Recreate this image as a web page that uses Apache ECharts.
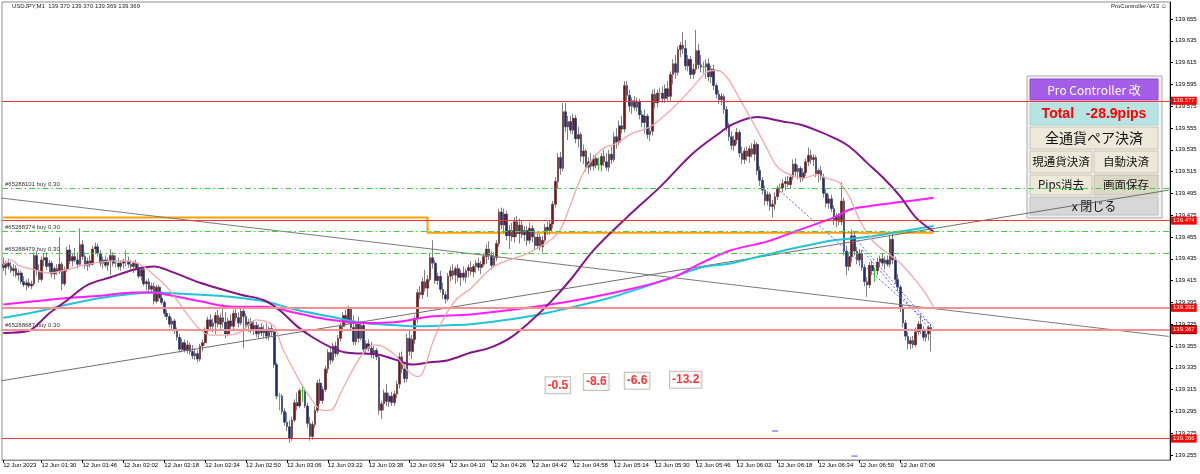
<!DOCTYPE html>
<html><head><meta charset="utf-8">
<script src="https://cdn.jsdelivr.net/npm/echarts@6/dist/echarts.min.js"></script>
<style>html,body{margin:0;padding:0;background:#fff}#c{width:1200px;height:474px}</style>
</head><body><div id="c"></div>
<script>
// ---- data (USDJPY M1, 12 Jun 2023, first bar 01:15) ----
const startMinute = 75; // 01:15
const slotCount = 457;  // bars + chart shift area
const opens = [139.430,139.427,139.431,139.428,139.424,139.426,139.420,139.422,139.414,139.411,139.413,139.410,139.412,139.438,139.424,139.416,139.434,139.436,139.428,139.431,139.421,139.426,139.423,139.430,139.412,139.425,139.443,139.433,139.437,139.434,139.430,139.448,139.437,139.429,139.433,139.430,139.444,139.446,139.440,139.431,139.434,139.429,139.433,139.438,139.431,139.431,139.428,139.431,139.433,139.433,139.430,139.428,139.431,139.426,139.419,139.425,139.412,139.414,139.407,139.410,139.396,139.409,139.399,139.395,139.385,139.382,139.375,139.378,139.369,139.363,139.352,139.358,139.351,139.356,139.350,139.346,139.348,139.343,139.355,139.358,139.369,139.379,139.373,139.376,139.383,139.375,139.381,139.377,139.366,139.378,139.373,139.385,139.381,139.376,139.387,139.382,139.374,139.377,139.370,139.374,139.366,139.372,139.367,139.370,139.364,139.371,139.368,139.338,139.309,139.309,139.295,139.285,139.281,139.270,139.287,139.303,139.300,139.314,139.314,139.300,139.284,139.272,139.283,139.296,139.321,139.305,139.315,139.334,139.349,139.342,139.355,139.348,139.362,139.373,139.383,139.378,139.389,139.372,139.359,139.375,139.362,139.374,139.352,139.357,139.353,139.347,139.351,139.345,139.296,139.302,139.312,139.304,139.309,139.303,139.311,139.320,139.345,139.334,139.325,139.362,139.350,139.361,139.380,139.404,139.402,139.414,139.408,139.416,139.436,139.431,139.415,139.419,139.407,139.402,139.398,139.419,139.424,139.420,139.426,139.418,139.422,139.418,139.424,139.427,139.423,139.428,139.431,139.427,139.430,139.437,139.444,139.438,139.429,139.436,139.449,139.478,139.466,139.476,139.456,139.461,139.455,139.469,139.458,139.466,139.457,139.461,139.452,139.463,139.455,139.447,139.455,139.446,139.452,139.464,139.461,139.467,139.485,139.506,139.528,139.518,139.570,139.556,139.561,139.553,139.564,139.545,139.549,139.529,139.534,139.519,139.524,139.520,139.527,139.521,139.521,139.529,139.524,139.519,139.531,139.526,139.547,139.542,139.557,139.554,139.594,139.585,139.575,139.580,139.574,139.579,139.567,139.560,139.566,139.549,139.552,139.586,139.578,139.587,139.587,139.582,139.591,139.584,139.604,139.614,139.606,139.627,139.631,139.628,139.612,139.618,139.604,139.609,139.626,139.613,139.611,139.611,139.614,139.602,139.609,139.594,139.586,139.581,139.584,139.572,139.556,139.547,139.539,139.544,139.551,139.532,139.526,139.534,139.529,139.536,139.531,139.540,139.516,139.507,139.498,139.488,139.494,139.483,139.485,139.492,139.500,139.500,139.504,139.506,139.503,139.510,139.522,139.515,139.518,139.509,139.514,139.524,139.530,139.526,139.528,139.513,139.516,139.510,139.495,139.486,139.490,139.481,139.470,139.474,139.469,139.488,139.442,139.428,139.437,139.456,139.442,139.434,139.440,139.427,139.414,139.411,139.429,139.424,139.424,139.432,139.435,139.431,139.434,139.430,139.453,139.434,139.416,139.409,139.390,139.376,139.364,139.357,139.360,139.356,139.368,139.375,139.370,139.363,139.366,139.372];
const highs = [139.436,139.433,139.435,139.432,139.430,139.429,139.425,139.424,139.419,139.416,139.417,139.415,139.441,139.442,139.430,139.437,139.440,139.441,139.434,139.433,139.428,139.430,139.455,139.432,139.428,139.446,139.448,139.440,139.445,139.441,139.463,139.452,139.441,139.436,139.438,139.447,139.450,139.449,139.443,139.437,139.438,139.436,139.444,139.441,139.438,139.436,139.434,139.435,139.443,139.437,139.434,139.433,139.434,139.430,139.428,139.427,139.416,139.417,139.413,139.413,139.411,139.411,139.405,139.397,139.388,139.385,139.381,139.380,139.372,139.366,139.362,139.361,139.360,139.358,139.356,139.353,139.351,139.357,139.361,139.372,139.382,139.384,139.380,139.386,139.388,139.385,139.394,139.386,139.381,139.384,139.388,139.392,139.386,139.390,139.391,139.385,139.380,139.381,139.378,139.377,139.375,139.376,139.374,139.376,139.373,139.375,139.370,139.340,139.312,139.311,139.298,139.294,139.287,139.290,139.306,139.312,139.316,139.318,139.316,139.303,139.290,139.286,139.300,139.324,139.325,139.318,139.337,139.352,139.353,139.358,139.359,139.365,139.376,139.386,139.388,139.392,139.391,139.383,139.378,139.382,139.378,139.376,139.360,139.361,139.359,139.355,139.353,139.347,139.305,139.315,139.320,139.312,139.313,139.314,139.323,139.349,139.350,139.338,139.366,139.369,139.365,139.383,139.407,139.410,139.418,139.425,139.420,139.440,139.452,139.434,139.422,139.424,139.413,139.405,139.422,139.428,139.430,139.428,139.430,139.425,139.428,139.426,139.430,139.433,139.430,139.434,139.436,139.433,139.440,139.448,139.451,139.442,139.441,139.452,139.481,139.482,139.481,139.479,139.466,139.468,139.473,139.474,139.472,139.470,139.465,139.465,139.468,139.466,139.462,139.458,139.458,139.456,139.467,139.469,139.470,139.488,139.510,139.532,139.533,139.578,139.578,139.566,139.566,139.568,139.567,139.556,139.551,139.540,139.536,139.528,139.532,139.530,139.531,139.528,139.532,139.535,139.532,139.535,139.538,139.551,139.555,139.562,139.566,139.598,139.598,139.590,139.583,139.584,139.583,139.582,139.571,139.572,139.568,139.556,139.590,139.591,139.590,139.592,139.593,139.595,139.598,139.607,139.618,139.622,139.630,139.634,139.643,139.636,139.622,139.621,139.614,139.645,139.632,139.622,139.616,139.618,139.619,139.612,139.613,139.596,139.590,139.587,139.586,139.575,139.560,139.552,139.548,139.555,139.553,139.538,139.537,139.538,139.539,139.541,139.544,139.542,139.520,139.510,139.502,139.497,139.496,139.489,139.496,139.502,139.504,139.508,139.510,139.511,139.513,139.526,139.527,139.521,139.520,139.518,139.527,139.537,139.535,139.531,139.530,139.518,139.520,139.513,139.499,139.494,139.494,139.484,139.477,139.477,139.505,139.491,139.447,139.441,139.462,139.460,139.446,139.444,139.443,139.430,139.418,139.432,139.433,139.427,139.436,139.438,139.440,139.437,139.438,139.457,139.458,139.437,139.421,139.411,139.393,139.379,139.368,139.363,139.364,139.372,139.378,139.384,139.373,139.369,139.374,139.375];
const lows = [139.424,139.420,139.425,139.422,139.419,139.418,139.415,139.412,139.409,139.406,139.408,139.407,139.410,139.420,139.413,139.414,139.428,139.425,139.422,139.418,139.416,139.420,139.421,139.406,139.410,139.423,139.430,139.428,139.432,139.426,139.428,139.434,139.426,139.424,139.427,139.429,139.439,139.437,139.428,139.426,139.427,139.424,139.420,139.428,139.427,139.425,139.424,139.426,139.428,139.427,139.424,139.422,139.424,139.417,139.415,139.410,139.406,139.404,139.403,139.393,139.394,139.396,139.393,139.382,139.379,139.372,139.370,139.366,139.360,139.349,139.350,139.349,139.348,139.347,139.343,139.342,139.340,139.341,139.350,139.356,139.366,139.370,139.368,139.366,139.372,139.370,139.372,139.362,139.364,139.370,139.369,139.378,139.372,139.374,139.353,139.371,139.368,139.367,139.365,139.363,139.362,139.364,139.362,139.361,139.360,139.364,139.335,139.306,139.296,139.292,139.282,139.277,139.266,139.268,139.285,139.296,139.298,139.304,139.298,139.280,139.268,139.269,139.280,139.294,139.302,139.302,139.313,139.330,139.338,139.340,139.345,139.346,139.359,139.368,139.374,139.375,139.369,139.356,139.356,139.358,139.360,139.349,139.347,139.350,139.344,139.343,139.342,139.292,139.288,139.296,139.300,139.299,139.300,139.300,139.307,139.316,139.330,139.321,139.322,139.346,139.343,139.357,139.376,139.398,139.398,139.405,139.400,139.414,139.426,139.412,139.411,139.404,139.398,139.394,139.396,139.414,139.416,139.412,139.414,139.410,139.415,139.413,139.418,139.420,139.418,139.422,139.424,139.421,139.428,139.430,139.434,139.425,139.427,139.433,139.446,139.462,139.458,139.452,139.444,139.451,139.450,139.455,139.449,139.454,139.451,139.447,139.449,139.450,139.443,139.444,139.443,139.441,139.450,139.457,139.457,139.463,139.482,139.500,139.512,139.515,139.551,139.544,139.550,139.549,139.541,139.537,139.524,139.522,139.515,139.513,139.516,139.516,139.518,139.516,139.515,139.520,139.516,139.515,139.522,139.524,139.536,139.539,139.550,139.551,139.580,139.570,139.568,139.571,139.570,139.563,139.556,139.550,139.545,139.543,139.548,139.573,139.574,139.580,139.578,139.578,139.580,139.580,139.595,139.600,139.603,139.620,139.623,139.608,139.607,139.600,139.600,139.605,139.609,139.606,139.605,139.600,139.598,139.596,139.590,139.582,139.577,139.576,139.568,139.552,139.543,139.535,139.534,139.540,139.528,139.522,139.522,139.525,139.523,139.528,139.525,139.512,139.502,139.494,139.484,139.484,139.479,139.473,139.480,139.489,139.495,139.496,139.498,139.501,139.500,139.507,139.511,139.508,139.505,139.506,139.511,139.520,139.522,139.520,139.510,139.505,139.507,139.491,139.482,139.481,139.478,139.466,139.464,139.466,139.466,139.438,139.420,139.424,139.432,139.438,139.430,139.428,139.424,139.410,139.400,139.408,139.420,139.414,139.420,139.427,139.428,139.425,139.428,139.427,139.430,139.412,139.405,139.386,139.372,139.360,139.352,139.352,139.353,139.354,139.365,139.366,139.360,139.359,139.360,139.350];
const closes = [139.427,139.431,139.428,139.424,139.426,139.420,139.422,139.414,139.411,139.413,139.410,139.412,139.438,139.424,139.416,139.434,139.436,139.428,139.431,139.421,139.426,139.423,139.430,139.412,139.425,139.443,139.433,139.437,139.434,139.430,139.448,139.437,139.429,139.433,139.430,139.444,139.446,139.440,139.431,139.434,139.429,139.433,139.438,139.431,139.431,139.428,139.431,139.433,139.433,139.430,139.428,139.431,139.426,139.419,139.425,139.412,139.414,139.407,139.410,139.396,139.409,139.399,139.395,139.385,139.382,139.375,139.378,139.369,139.363,139.352,139.358,139.351,139.356,139.350,139.346,139.348,139.343,139.355,139.358,139.369,139.379,139.373,139.376,139.383,139.375,139.381,139.377,139.366,139.378,139.373,139.385,139.381,139.376,139.387,139.382,139.374,139.377,139.370,139.374,139.366,139.372,139.367,139.370,139.364,139.371,139.368,139.338,139.309,139.309,139.295,139.285,139.281,139.270,139.287,139.303,139.300,139.314,139.314,139.300,139.284,139.272,139.283,139.296,139.321,139.305,139.315,139.334,139.349,139.342,139.355,139.348,139.362,139.373,139.383,139.378,139.389,139.372,139.359,139.375,139.362,139.374,139.352,139.357,139.353,139.347,139.351,139.345,139.296,139.302,139.312,139.304,139.309,139.303,139.311,139.320,139.345,139.334,139.325,139.362,139.350,139.361,139.380,139.404,139.402,139.414,139.408,139.416,139.436,139.431,139.415,139.419,139.407,139.402,139.398,139.419,139.424,139.420,139.426,139.418,139.422,139.418,139.424,139.427,139.423,139.428,139.431,139.427,139.430,139.437,139.444,139.438,139.429,139.436,139.449,139.478,139.466,139.476,139.456,139.461,139.455,139.469,139.458,139.466,139.457,139.461,139.452,139.463,139.455,139.447,139.455,139.446,139.452,139.464,139.461,139.467,139.485,139.506,139.528,139.518,139.570,139.556,139.561,139.553,139.564,139.545,139.549,139.529,139.534,139.519,139.524,139.520,139.527,139.521,139.521,139.529,139.524,139.519,139.531,139.526,139.547,139.542,139.557,139.554,139.594,139.585,139.575,139.580,139.574,139.579,139.567,139.560,139.566,139.549,139.552,139.586,139.578,139.587,139.587,139.582,139.591,139.584,139.604,139.614,139.606,139.627,139.631,139.628,139.612,139.618,139.604,139.609,139.626,139.613,139.611,139.611,139.614,139.602,139.609,139.594,139.586,139.581,139.584,139.572,139.556,139.547,139.539,139.544,139.551,139.532,139.526,139.534,139.529,139.536,139.531,139.540,139.516,139.507,139.498,139.488,139.494,139.483,139.485,139.492,139.500,139.500,139.504,139.506,139.503,139.510,139.522,139.515,139.518,139.509,139.514,139.524,139.530,139.526,139.528,139.513,139.516,139.510,139.495,139.486,139.490,139.481,139.470,139.474,139.469,139.488,139.442,139.428,139.437,139.456,139.442,139.434,139.440,139.427,139.414,139.411,139.429,139.424,139.424,139.432,139.435,139.431,139.434,139.430,139.453,139.434,139.416,139.409,139.390,139.376,139.364,139.357,139.360,139.356,139.368,139.375,139.370,139.363,139.366,139.372,139.369];

// moving averages: [bar index, price]
const pinkMA = [[0,139.429],[3,139.434],[6,139.429],[12,139.425],[18,139.422],[25,139.425],[31,139.429],[38,139.432],[44,139.433],[51,139.432],[55,139.428],[60,139.418],[64,139.409],[68,139.397],[72,139.384],[77,139.370],[81,139.365],[88,139.365],[93,139.368],[99,139.379],[106,139.373],[109,139.354],[115,139.327],[120,139.308],[125,139.296],[128,139.296],[132,139.312],[136,139.330],[141,139.349],[145,139.356],[149,139.354],[154,139.345],[158,139.333],[162,139.327],[164,139.330],[168,139.358],[172,139.379],[177,139.397],[183,139.408],[192,139.428],[205,139.440],[214,139.452],[218,139.462],[222,139.485],[227,139.514],[234,139.535],[240,139.541],[246,139.550],[253,139.556],[260,139.569],[264,139.578],[270,139.593],[275,139.606],[279,139.608],[283,139.602],[289,139.578],[295,139.553],[299,139.535],[303,139.519],[308,139.512],[313,139.509],[318,139.512],[322,139.509],[327,139.505],[331,139.492],[335,139.471],[340,139.452],[346,139.440],[351,139.431],[356,139.418],[360,139.406],[364,139.391]];
const purpleMA = [[0,139.367],[10,139.369],[14,139.376],[18,139.385],[25,139.397],[33,139.411],[42,139.418],[51,139.425],[59,139.428],[66,139.423],[77,139.413],[84,139.408],[93,139.402],[102,139.397],[108,139.388],[115,139.373],[121,139.363],[128,139.354],[134,139.349],[141,139.348],[147,139.347],[154,139.342],[160,139.338],[167,139.340],[174,139.342],[183,139.349],[190,139.353],[198,139.362],[206,139.377],[214,139.395],[222,139.416],[231,139.443],[244,139.473],[257,139.501],[270,139.532],[280,139.550],[285,139.558],[295,139.565],[305,139.561],[312,139.558],[318,139.553],[325,139.546],[331,139.538],[338,139.523],[344,139.510],[351,139.492],[357,139.473],[364,139.460]];
const cyanMA = [[0,139.381],[12,139.386],[25,139.393],[38,139.399],[51,139.403],[58,139.404],[70,139.403],[84,139.401],[93,139.399],[102,139.396],[115,139.388],[128,139.382],[141,139.376],[154,139.374],[162,139.373],[174,139.374],[183,139.375],[200,139.380],[214,139.386],[237,139.399],[262,139.418],[273,139.427],[285,139.431],[299,139.439],[312,139.446],[325,139.452],[338,139.455],[351,139.460],[364,139.465]];
const magentaMA = [[0,139.393],[12,139.396],[25,139.399],[38,139.401],[51,139.404],[58,139.404],[64,139.402],[77,139.396],[90,139.391],[102,139.391],[115,139.385],[128,139.379],[141,139.376],[154,139.377],[167,139.382],[183,139.384],[214,139.393],[241,139.405],[262,139.418],[273,139.431],[285,139.443],[299,139.451],[312,139.462],[325,139.473],[331,139.480],[338,139.483],[351,139.487],[364,139.491]];
const orangeStop = [[0,139.473],[166,139.473],[166,139.459],[364,139.459]];
const trendDown = [[-1,139.4908],[456,139.3638]];
const trendUp = [[-1,139.323],[456,139.498]];
const blueDotted = [[[304,139.497],[364,139.372]],[[331,139.460],[363,139.374]],[[336,139.443],[362,139.372]]];
const blueMarks = [[302,139.277],[333,139.254]];

const redLevels = [139.577, 139.474, 139.392, 139.367, 139.266];
const orderPrices = [139.501, 139.455, 139.436, 139.374];
const orderLabels = ['#65288101 buy 0.30','#65288374 buy 0.30','#65288479 buy 0.30','#65288687 buy 0.30'];
const bidPrice = 139.369;

const pipPoints = [[217,139.319],[232,139.322],[248,139.323],[267,139.324]];
const pipTexts = ['-0.5','-8.6','-6.6','-13.2'];

const yTicks = [139.255,139.275,139.295,139.315,139.335,139.355,139.375,139.395,139.415,139.435,139.455,139.475,139.495,139.515,139.535,139.555,139.575,139.595,139.615,139.635,139.655];
const timeLabelIdx = [0,15,31,47,63,79,95,111,127,143,159,175,191,207,223,239,255,271,287,303,319,335,351];
const timeLabelText = ['12 Jun 2023','12 Jun 01:30','12 Jun 01:46','12 Jun 02:02','12 Jun 02:18','12 Jun 02:34','12 Jun 02:50','12 Jun 03:06','12 Jun 03:22','12 Jun 03:38','12 Jun 03:54','12 Jun 04:10','12 Jun 04:26','12 Jun 04:42','12 Jun 04:58','12 Jun 05:14','12 Jun 05:30','12 Jun 05:46','12 Jun 06:02','12 Jun 06:18','12 Jun 06:34','12 Jun 06:50','12 Jun 07:06'];

// ---- build ----
const pad = n => (n < 10 ? '0' : '') + n;
const categories = [];
for (let i = 0; i < slotCount; i++) { const m = startMinute + i; categories.push(pad(Math.floor(m / 60) % 24) + ':' + pad(m % 60)); }
const labelMap = {}; timeLabelIdx.forEach((k, j) => labelMap[k] = timeLabelText[j]);

const DOJI = '#32cd32';
const wickData = opens.map((o, i) => {
  const v = [o, closes[i], lows[i], highs[i]];
  if (o === closes[i]) return { value: v, itemStyle: { color: DOJI, color0: DOJI, borderColor: DOJI, borderColor0: DOJI } };
  return v;
});
const bodyData = opens.map((o, i) => {
  const c = closes[i];
  if (o === c) return '-';
  return [o, c, Math.min(o, c), Math.max(o, c)];
});

const SF = 'Liberation Sans';
const markData = [];
markData.push({ yAxis: bidPrice, lineStyle: { color: '#8a8a8a', width: 1, type: 'solid' },
  label: { show: true, position: 'end', distance: 1, formatter: bidPrice.toFixed(3), color: '#fff', backgroundColor: '#000', fontSize: 6, fontFamily: SF, padding: [2, 2, 1, 2] } });
orderPrices.forEach((p, j) => markData.push({ yAxis: p, lineStyle: { color: '#3fcf3f', width: 1, type: [6, 3, 1.5, 3] },
  label: { show: true, position: 'insideStartTop', distance: [3, 1], formatter: orderLabels[j], color: '#333', fontSize: 6, fontFamily: SF } }));
redLevels.forEach(p => {
  const soft = (p === 139.392 || p === 139.367);
  markData.push({ yAxis: p, lineStyle: { color: soft ? '#f49090' : '#ff3030', width: soft ? 2 : 1, type: 'solid', opacity: 1 },
    label: { show: true, position: 'end', distance: 1, formatter: p.toFixed(3), color: '#fff', backgroundColor: '#ff0000', fontSize: 6, fontFamily: SF, padding: [1, 2, 1, 2] } });
});

const lineS = (data, color, width, extra) => Object.assign({ type: 'line', data, showSymbol: false, symbol: 'none', smooth: 0.35, silent: true, animation: false,
  lineStyle: { color, width }, z: 4 }, extra || {});

const chart = echarts.init(document.getElementById('c'), null, { renderer: 'canvas' });
chart.setOption({
  backgroundColor: '#ffffff',
  animation: false,
  grid: { left: 2, right: 30, top: 2, bottom: 14, show: true, borderColor: '#8c8c8c', borderWidth: 1, backgroundColor: 'transparent' },
  xAxis: {
    type: 'category', data: categories, boundaryGap: true,
    axisLine: { show: true, lineStyle: { color: '#8c8c8c' } },
    axisTick: { show: true, interval: (i) => labelMap[i] !== undefined, alignWithLabel: true, length: 3, lineStyle: { color: '#000' } },
    axisLabel: { show: true, interval: (i) => labelMap[i] !== undefined, formatter: (v, i) => labelMap[i] || '', align: 'left', margin: 2, fontSize: 6, fontFamily: SF, color: '#000' },
    splitLine: { show: false }
  },
  yAxis: {
    type: 'value', position: 'right', min: 139.2504, max: 139.6706, scale: true,
    axisLine: { show: true, lineStyle: { color: '#000' } },
    axisTick: { show: true, customValues: yTicks, length: 3, lineStyle: { color: '#000' } },
    axisLabel: { show: true, customValues: yTicks, formatter: v => v.toFixed(3), fontSize: 6, fontFamily: SF, color: '#000', margin: 5 },
    splitLine: { show: false }
  },
  series: [
    { type: 'candlestick', data: wickData, barWidth: 2.2, silent: true, z: 2,
      itemStyle: { color: '#808080', color0: '#808080', borderColor: '#808080', borderColor0: '#808080', borderWidth: 1 },
      markLine: { silent: true, symbol: ['none', 'none'], animation: false, data: markData } },
    { type: 'candlestick', data: bodyData, barWidth: 2.2, silent: true, z: 3,
      itemStyle: { color: '#7a1212', color0: '#1c2c78', borderColor: '#7a1212', borderColor0: '#1c2c78', borderWidth: 0 } },
    lineS(orangeStop, '#ffa000', 2, { smooth: false, z: 1 }),
    lineS(trendDown, '#7a7a7a', 1, { smooth: false }),
    lineS(trendUp, '#6e6e6e', 1, { smooth: false }),
    lineS(cyanMA, '#22c3d6', 2),
    lineS(magentaMA, '#ff1cff', 2),
    lineS(purpleMA, '#85148a', 2),
    lineS(pinkMA, '#f5a8a8', 1.3),
    ...blueDotted.map(d => lineS(d, '#5a5aff', 1, { smooth: false, lineStyle: { color: '#5a5aff', width: 1, type: [2, 2] } })),
    { type: 'scatter', data: blueMarks, symbol: 'rect', symbolSize: [6, 1.5], clip: false, silent: true, itemStyle: { color: '#6a6aff' }, z: 5 },
    { type: 'scatter', data: pipPoints, symbol: 'circle', symbolSize: 1, silent: true, itemStyle: { color: 'transparent' }, z: 6,
      label: { show: true, position: 'inside', formatter: p => pipTexts[p.dataIndex], color: '#ff0000', fontSize: 12, fontWeight: 'bold', fontFamily: SF,
        backgroundColor: '#ffffff', borderColor: '#b7aea6', borderWidth: 1, padding: [3, 2, 1, 2] } }
  ],
  graphic: [
    { type: 'text', left: 12, top: 3, z: 10, style: { text: 'USDJPY,M1  139.370 139.370 139.369 139.369', fontSize: 6, fontFamily: SF, fill: '#222' } },
    { type: 'text', left: 1111, top: 3, z: 10, style: { text: 'ProController-V33 \u263A', fontSize: 6, fontFamily: SF, fill: '#222' } },
    { type: 'group', z: 20, children: [
      { type: 'rect', shape: { x: 1027, y: 76, width: 135, height: 142 }, style: { fill: '#f3f3f3', stroke: '#a8a8a8', lineWidth: 1 } },
      { type: 'rect', shape: { x: 1030, y: 79, width: 128, height: 21 }, style: { fill: '#a35de6', stroke: '#8f4ad6' } },
      { type: 'text', style: { x: 1094, y: 90, text: 'Pro Controller 改', align: 'center', verticalAlign: 'middle', fontSize: 12, fontFamily: 'Noto Sans CJK JP', fill: '#ffffff' } },
      { type: 'rect', shape: { x: 1030, y: 103, width: 128, height: 22 }, style: { fill: '#b5e4e2', stroke: '#a8d6d4' } },
      { type: 'text', style: { x: 1094, y: 114.5, text: 'Total   -28.9pips', align: 'center', verticalAlign: 'middle', fontSize: 14, fontWeight: 'bold', fontFamily: SF, fill: '#ff0000' } },
      { type: 'rect', shape: { x: 1030, y: 127, width: 128, height: 22 }, style: { fill: '#ece9d8', stroke: '#c9c5b3' } },
      { type: 'text', style: { x: 1094, y: 138, text: '全通貨ペア決済', align: 'center', verticalAlign: 'middle', fontSize: 14, fontFamily: 'Noto Sans CJK JP', fill: '#111' } },
      { type: 'rect', shape: { x: 1030, y: 151, width: 62, height: 22 }, style: { fill: '#ece9d8', stroke: '#c9c5b3' } },
      { type: 'text', style: { x: 1061, y: 162, text: '現通貨決済', align: 'center', verticalAlign: 'middle', fontSize: 11.5, fontFamily: 'Noto Sans CJK JP', fill: '#111' } },
      { type: 'rect', shape: { x: 1094, y: 151, width: 64, height: 22 }, style: { fill: '#ece9d8', stroke: '#c9c5b3' } },
      { type: 'text', style: { x: 1126, y: 162, text: '自動決済', align: 'center', verticalAlign: 'middle', fontSize: 11.5, fontFamily: 'Noto Sans CJK JP', fill: '#111' } },
      { type: 'rect', shape: { x: 1030, y: 175, width: 62, height: 20 }, style: { fill: '#ece9d8', stroke: '#c9c5b3' } },
      { type: 'text', style: { x: 1061, y: 185, text: 'Pips消去', align: 'center', verticalAlign: 'middle', fontSize: 11.5, fontFamily: 'Noto Sans CJK JP', fill: '#111' } },
      { type: 'rect', shape: { x: 1094, y: 175, width: 64, height: 20 }, style: { fill: '#dcd8c6', stroke: '#c4c0ae' } },
      { type: 'text', style: { x: 1126, y: 185, text: '画面保存', align: 'center', verticalAlign: 'middle', fontSize: 11.5, fontFamily: 'Noto Sans CJK JP', fill: '#111' } },
      { type: 'rect', shape: { x: 1030, y: 197, width: 128, height: 18 }, style: { fill: '#d7d7d7', stroke: '#c0c0c0' } },
      { type: 'text', style: { x: 1094, y: 206, text: 'x 閉じる', align: 'center', verticalAlign: 'middle', fontSize: 12, fontFamily: 'Noto Sans CJK JP', fill: '#111' } }
    ] }
  ]
});
</script></body></html>
